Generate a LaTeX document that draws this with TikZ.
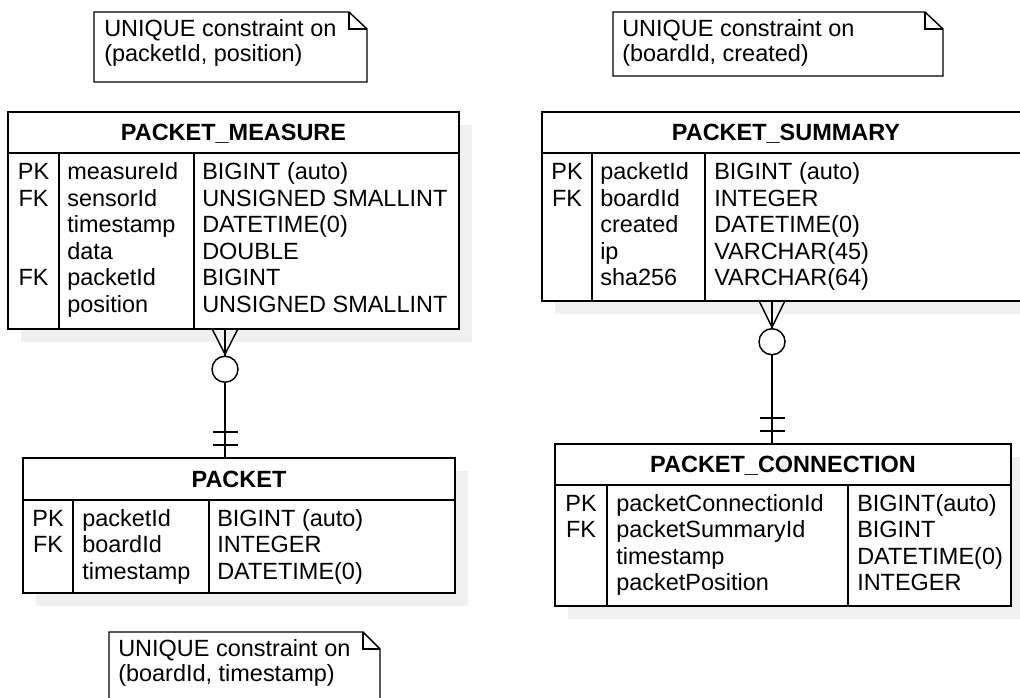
\documentclass[tikz,border=0pt]{standalone}
\usepackage{fontspec}
\setmainfont{Liberation Sans}
\usetikzlibrary{fit,calc}
\definecolor{shadowgray}{RGB}{240,240,240}
\newcommand\erfont{\fontsize{17.6}{20}\selectfont}
\tikzset{
  er/.style={line width=1.1pt, black},
  tbl/.style={draw, fill=white, inner sep=0pt, line width=1.1pt},
  tshadow/.style={fill=shadowgray, draw=none},
  cell/.style={inner sep=0pt, anchor=base west, font=\erfont},
  key/.style={inner sep=0pt, anchor=base, font=\erfont},
  head/.style={inner sep=0pt, anchor=base, font=\erfont\bfseries},
  notebox/.style={draw, fill=white, line width=1.1pt},
}
\begin{document}
\begin{tikzpicture}[x=0.75pt,y=-0.75pt]
\useasboundingbox (0,0) rectangle (1020,698);

% ---------- notes ----------
\draw[notebox] (94,12) -- (349,12) -- (367,29) -- (367,82) -- (94,82) -- cycle;
\draw[er] (349,12) -- (349,29) -- (367,29);
\node[cell] (n1a) at (104,37) {UNIQUE constraint on};
\node[cell] (n1b) at (104,61.5) {(packetId, position)};

\draw[notebox] (613,12) -- (925,12) -- (943,29) -- (943,76) -- (613,76) -- cycle;
\draw[er] (925,12) -- (925,29) -- (943,29);
\node[cell] (n2a) at (622,37) {UNIQUE constraint on};
\node[cell] (n2b) at (622,61.5) {(boardId, created)};

\draw[notebox] (109,720) -- (109,632) -- (363,632) -- (380,649) -- (380,720);
\draw[er] (363,632) -- (363,649) -- (380,649);
\node[cell] (n3a) at (118,656) {UNIQUE constraint on};
\node[cell] (n3b) at (118,681) {(boardId, timestamp)};

% ---------- PACKET_MEASURE ----------
\fill[tshadow] (21,125) rectangle (472,342);
\node[tbl, fit={(8,112)(459,329)}] (pm) {};
\draw[er] (8,153) -- (459,153) (59,153) -- (59,329) (194,153) -- (194,329);
\node[head] (pm-h) at (233.5,141) {PACKET\_MEASURE};
\foreach \k/\n/\t [count=\i from 0] in {
  PK/measureId/BIGINT (auto),
  FK/sensorId/UNSIGNED SMALLINT,
  /timestamp/DATETIME(0),
  /data/DOUBLE,
  FK/packetId/BIGINT,
  /position/UNSIGNED SMALLINT}{
  \node[key]  (pm-k\i) at (33.5,{179.5+26.6*\i}) {\k};
  \node[cell] (pm-n\i) at (67,{179.5+26.6*\i}) {\n};
  \node[cell] (pm-t\i) at (202,{179.5+26.6*\i}) {\t};
}

% ---------- PACKET_SUMMARY ----------
\fill[tshadow] (555,125) rectangle (1043,314);
\node[tbl, fit={(542,112)(1030,301)}] (ps) {};
\draw[er] (542,153) -- (1030,153) (592,153) -- (592,301) (705,153) -- (705,301);
\node[head] (ps-h) at (786,141) {PACKET\_SUMMARY};
\foreach \k/\n/\t [count=\i from 0] in {
  PK/packetId/BIGINT (auto),
  FK/boardId/INTEGER,
  /created/DATETIME(0),
  /ip/VARCHAR(45),
  /sha256/VARCHAR(64)}{
  \node[key]  (ps-k\i) at (567,{179.5+26.6*\i}) {\k};
  \node[cell] (ps-n\i) at (600,{179.5+26.6*\i}) {\n};
  \node[cell] (ps-t\i) at (714,{179.5+26.6*\i}) {\t};
}

% ---------- PACKET ----------
\fill[tshadow] (36,471) rectangle (468,606);
\node[tbl, fit={(23,458)(455,593)}] (pk) {};
\draw[er] (23,500) -- (455,500) (73,500) -- (73,593) (209,500) -- (209,593);
\node[head] (pk-h) at (239,487) {PACKET};
\foreach \k/\n/\t [count=\i from 0] in {
  PK/packetId/BIGINT (auto),
  FK/boardId/INTEGER,
  /timestamp/DATETIME(0)}{
  \node[key]  (pk-k\i) at (48,{526+26.6*\i}) {\k};
  \node[cell] (pk-n\i) at (82,{526+26.6*\i}) {\n};
  \node[cell] (pk-t\i) at (217,{526+26.6*\i}) {\t};
}

% ---------- PACKET_CONNECTION ----------
\fill[tshadow] (568,457) rectangle (1024,619);
\node[tbl, fit={(555,444)(1011,606)}] (pc) {};
\draw[er] (555,485) -- (1011,485) (607,485) -- (607,606) (848,485) -- (848,606);
\node[head] (pc-h) at (783,472.5) {PACKET\_CONNECTION};
\foreach \k/\n/\t [count=\i from 0] in {
  PK/packetConnectionId/BIGINT(auto),
  FK/packetSummaryId/BIGINT,
  /timestamp/DATETIME(0),
  /packetPosition/INTEGER}{
  \node[key]  (pc-k\i) at (581,{511+26.6*\i}) {\k};
  \node[cell] (pc-n\i) at (616,{511+26.6*\i}) {\n};
  \node[cell] (pc-t\i) at (857,{511+26.6*\i}) {\t};
}

% ---------- relationships ----------
\coordinate (lx) at (225,0);
\coordinate (rx) at (772,0);

% PACKET_MEASURE (zero or many) -- PACKET (exactly one)
\draw[er] (pm.south -| lx) coordinate (a1) -- (pk.north -| lx) coordinate (b1);
\draw[er] ($(a1)+(-12.5,0)$) -- ($(a1)+(0,24.5)$) -- ($(a1)+(12.5,0)$);
\draw[er, fill=white] ($(a1)+(0,39.5)$) circle[radius=13];
\draw[er] ($(b1)+(-12.5,-12.5)$) -- ++(25,0) ($(b1)+(-12.5,-25.5)$) -- ++(25,0);

% PACKET_SUMMARY (zero or many) -- PACKET_CONNECTION (exactly one)
\draw[er] (ps.south -| rx) coordinate (a2) -- (pc.north -| rx) coordinate (b2);
\draw[er] ($(a2)+(-12.5,0)$) -- ($(a2)+(0,25.5)$) -- ($(a2)+(12.5,0)$);
\draw[er, fill=white] ($(a2)+(0,40)$) circle[radius=13];
\draw[er] ($(b2)+(-12.5,-12.5)$) -- ++(25,0) ($(b2)+(-12.5,-25.5)$) -- ++(25,0);
\end{tikzpicture}
\end{document}
